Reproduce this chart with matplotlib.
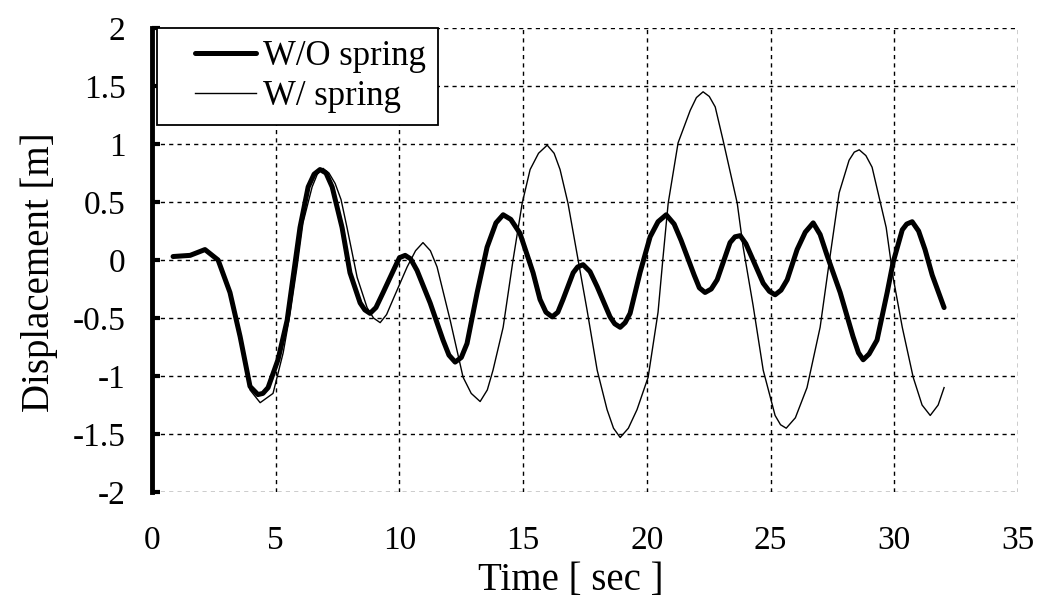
import numpy as np
import matplotlib.pyplot as plt
from matplotlib.legend_handler import HandlerLine2D

# W/O spring (thick line)
time_wo = [0.85, 1.54, 2.14, 2.67, 3.15, 3.56, 3.96, 4.28, 4.48, 4.69, 5.09, 5.46,
           5.70, 5.98, 6.31, 6.55, 6.79, 7.03, 7.28, 7.68, 8.00, 8.41, 8.60, 8.81,
           9.05, 9.34, 9.82, 10.00, 10.23, 10.45, 10.71, 11.24, 11.76, 12.00, 12.25, 12.50,
           12.73, 13.14, 13.54, 13.90, 14.19, 14.50, 14.87, 15.40, 15.68, 15.92, 16.17, 16.40,
           16.61, 17.02, 17.20, 17.42, 17.70, 17.99, 18.51, 18.70, 18.92, 19.12, 19.32, 19.72,
           20.13, 20.45, 20.78, 21.10, 21.38, 21.91, 22.12, 22.35, 22.60, 22.84, 23.36, 23.56,
           23.77, 24.00, 24.29, 24.70, 24.95, 25.18, 25.42, 25.67, 26.07, 26.40, 26.72, 27.00,
           27.28, 27.81, 28.33, 28.55, 28.74, 28.98, 29.30, 29.71, 29.95, 30.32, 30.50, 30.72,
           30.98, 31.24, 31.53, 32.01]
disp_wo = [0.03, 0.04, 0.09, 0.00, -0.28, -0.66, -1.09, -1.16, -1.15, -1.10, -0.86, -0.52,
           -0.15, 0.28, 0.63, 0.74, 0.78, 0.75, 0.63, 0.28, -0.11, -0.37, -0.43, -0.46,
           -0.41, -0.28, -0.06, 0.02, 0.04, 0.01, -0.09, -0.37, -0.69, -0.82, -0.88, -0.84,
           -0.72, -0.28, 0.11, 0.32, 0.39, 0.35, 0.23, -0.11, -0.34, -0.45, -0.49, -0.45,
           -0.34, -0.11, -0.06, -0.04, -0.10, -0.23, -0.49, -0.55, -0.58, -0.54, -0.46, -0.11,
           0.20, 0.33, 0.39, 0.31, 0.17, -0.13, -0.24, -0.28, -0.25, -0.17, 0.15, 0.20,
           0.21, 0.14, 0.00, -0.20, -0.27, -0.30, -0.26, -0.17, 0.09, 0.24, 0.32, 0.22,
           0.04, -0.28, -0.66, -0.80, -0.86, -0.81, -0.69, -0.28, -0.02, 0.26, 0.31, 0.33,
           0.25, 0.09, -0.13, -0.41]

# W/ spring (thin line)
time_w = [0.85, 1.54, 2.14, 2.67, 3.15, 3.56, 3.96, 4.37, 4.89, 5.30, 5.58, 5.86,
          6.10, 6.47, 6.68, 6.91, 7.15, 7.40, 7.64, 7.88, 8.29, 8.69, 8.95, 9.22,
          9.48, 9.74, 10.31, 10.65, 10.95, 11.25, 11.52, 12.05, 12.57, 12.90, 13.26, 13.55,
          13.78, 14.19, 14.59, 14.96, 15.28, 15.62, 15.97, 16.25, 16.49, 16.81, 17.22, 17.58,
          17.99, 18.39, 18.65, 18.92, 19.25, 19.60, 20.05, 20.45, 20.65, 20.86, 21.26, 21.75,
          22.00, 22.27, 22.52, 22.76, 23.08, 23.65, 23.89, 24.29, 24.70, 25.18, 25.40, 25.63,
          26.00, 26.47, 27.00, 27.36, 27.77, 28.17, 28.38, 28.58, 28.85, 29.10, 29.67, 29.95,
          30.32, 30.76, 31.12, 31.45, 31.77, 32.01]
disp_w = [0.03, 0.04, 0.09, 0.00, -0.28, -0.66, -1.12, -1.23, -1.15, -0.80, -0.46, -0.06,
          0.32, 0.63, 0.74, 0.79, 0.75, 0.66, 0.52, 0.28, -0.15, -0.41, -0.50, -0.54,
          -0.47, -0.34, -0.06, 0.08, 0.15, 0.08, -0.06, -0.52, -1.01, -1.15, -1.22, -1.12,
          -0.95, -0.58, 0.00, 0.49, 0.78, 0.92, 0.99, 0.92, 0.78, 0.49, 0.00, -0.43,
          -0.95, -1.29, -1.45, -1.53, -1.45, -1.29, -1.01, -0.45, 0.02, 0.49, 1.01, 1.29,
          1.40, 1.45, 1.41, 1.32, 1.03, 0.49, 0.11, -0.39, -0.95, -1.34, -1.42, -1.45,
          -1.36, -1.10, -0.58, -0.03, 0.58, 0.86, 0.93, 0.95, 0.90, 0.80, 0.28, -0.15,
          -0.58, -1.01, -1.25, -1.34, -1.25, -1.10]

x_ticks = [0, 5, 10, 15, 20, 25, 30, 35]
y_ticks = [-2, -1.5, -1, -0.5, 0, 0.5, 1, 1.5, 2]
y_ticklabels = ['-2', '-1.5', '-1', '-0.5', '0', '0.5', '1', '1.5', '2']

plt.rcParams['font.family'] = ['Liberation Serif', 'DejaVu Serif']
plt.rcParams['axes.unicode_minus'] = False

fig = plt.figure(figsize=(10.55, 6.06), dpi=100)
ax = fig.add_axes([0.1441, 0.1881, 0.8209, 0.7657])

l1, = ax.plot(time_wo, disp_wo, color='black', lw=3.6, solid_joinstyle='round',
              solid_capstyle='round', label='W/O spring', zorder=3)
l2, = ax.plot(time_w, disp_w, color='black', lw=1.0, solid_joinstyle='round',
              label='W/ spring', zorder=3)

ax.set_xlim(0, 35)
ax.set_ylim(-2, 2)
ax.set_xticks(x_ticks)
ax.set_yticks(y_ticks)
ax.set_yticklabels(y_ticklabels)
ax.grid(True, color='black', lw=1.0, linestyle=(0, (3, 3)))
ax.set_axisbelow(True)

for s in ['top', 'right', 'bottom']:
    ax.spines[s].set_visible(False)
ax.spines['left'].set_linewidth(3.5)

ax.tick_params(axis='y', direction='in', length=6, width=3, pad=19, labelsize=24)
ax.tick_params(axis='x', length=0, pad=24, labelsize=24)

ax.set_xlabel('Time [ sec ]', fontsize=28)
ax.set_ylabel('Displacement [m]', fontsize=28)
ax.xaxis.set_label_coords(0.484, -0.151)
ax.yaxis.set_label_coords(-0.108, 0.474)

leg = ax.legend(handles=[l1, l2], loc='upper left', bbox_to_anchor=(0.006, 1.0),
                borderaxespad=0, fontsize=25, fancybox=False, framealpha=1,
                borderpad=0.35, labelspacing=0.2, handlelength=2.5, handletextpad=0.2,
                handler_map={l1: HandlerLine2D(xpad=0.75), l2: HandlerLine2D(xpad=0.75)})
leg.get_frame().set_edgecolor('black')
leg.get_frame().set_linewidth(1.3)

plt.savefig('out.png', dpi=100)
